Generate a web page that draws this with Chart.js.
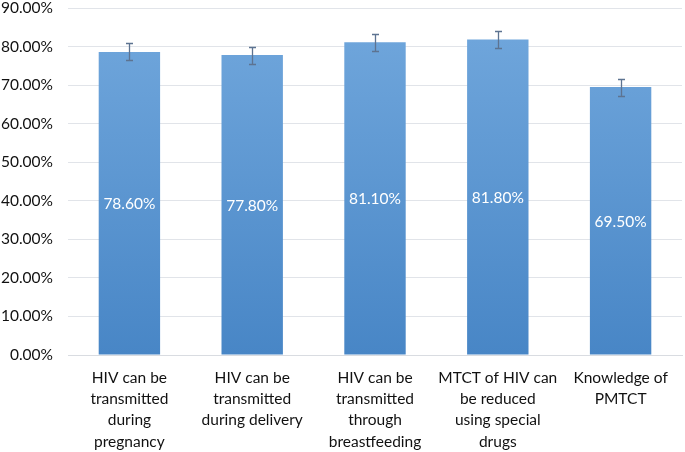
<!DOCTYPE html>
<html>
<head>
<meta charset="utf-8">
<script src="https://cdn.jsdelivr.net/npm/chart.js@4/dist/chart.umd.min.js"></script>
<style>
  html, body { margin: 0; padding: 0; background: #fff; }
  #wrap { width: 685px; height: 452px; }
</style>
</head>
<body>
<div id="wrap"><canvas id="myChart"></canvas></div>
<script>
const categories = [
    ['HIV can be', 'transmitted', 'during', 'pregnancy'],
    ['HIV can be', 'transmitted', 'during delivery'],
    ['HIV can be', 'transmitted', 'through', 'breastfeeding'],
    ['MTCT of HIV can', 'be reduced', 'using special', 'drugs'],
    ['Knowledge of', 'PMTCT']
];
const values = [78.6, 77.8, 81.1, 81.8, 69.5];
const errors = [2.2, 2.2, 2.2, 2.2, 2.2];
const yTicks = [0, 10, 20, 30, 40, 50, 60, 70, 80, 90];

const FONT = 'Lato, "Open Sans", sans-serif';

// error bars drawn from the y scale
const errorBars = {
    id: 'errorBars',
    afterDatasetsDraw(chart) {
        const ctx = chart.ctx;
        const y = chart.scales.y;
        const meta = chart.getDatasetMeta(0);
        ctx.save();
        ctx.strokeStyle = '#5d7391';
        ctx.lineWidth = 1.3;
        meta.data.forEach((bar, i) => {
            const top = Math.round(y.getPixelForValue(values[i] + errors[i])) + 0.5;
            const bot = Math.round(y.getPixelForValue(values[i] - errors[i])) + 0.5;
            const x = Math.round(bar.x) + 0.5;
            ctx.beginPath();
            ctx.moveTo(x, top); ctx.lineTo(x, bot);
            ctx.moveTo(x - 3.5, top); ctx.lineTo(x + 3.5, top);
            ctx.moveTo(x - 3.5, bot); ctx.lineTo(x + 3.5, bot);
            ctx.stroke();
        });
        ctx.restore();
    }
};

// value labels in the middle of each bar
const barLabels = {
    id: 'barLabels',
    afterDatasetsDraw(chart) {
        const ctx = chart.ctx;
        const meta = chart.getDatasetMeta(0);
        ctx.save();
        ctx.fillStyle = '#ffffff';
        ctx.font = '15.5px ' + FONT;
        ctx.textAlign = 'center';
        ctx.textBaseline = 'middle';
        meta.data.forEach((bar, i) => {
            ctx.fillText(values[i].toFixed(2) + '%', bar.x, (bar.y + bar.base) / 2 + 1);
        });
        ctx.restore();
    }
};

const ctx = document.getElementById('myChart').getContext('2d');

let chart = new Chart(ctx, {
    type: 'bar',
    data: {
        labels: categories,
        datasets: [{
            data: values,
            backgroundColor: (c) => {
                const area = c.chart.chartArea;
                if (!area) return '#5b9bd5';
                const g = c.chart.ctx.createLinearGradient(0, area.top, 0, area.bottom);
                g.addColorStop(0, '#72a8dd');
                g.addColorStop(1, '#4886c6');
                return g;
            },
            borderWidth: 0,
            categoryPercentage: 1.0,
            barPercentage: 0.5
        }]
    },
    options: {
        responsive: true,
        maintainAspectRatio: false,
        animation: false,
        layout: { padding: { top: 0, right: 3, left: 0, bottom: 0 } },
        plugins: {
            legend: { display: false },
            tooltip: { enabled: false }
        },
        scales: {
            x: {
                grid: { display: false, drawTicks: false },
                border: { color: '#d9dce1' },
                afterFit: (axis) => { axis.height = 97; },
                ticks: {
                    color: '#111',
                    font: { family: FONT, size: 15.5, lineHeight: 1.38 },
                    maxRotation: 0,
                    autoSkip: false,
                    padding: 12
                }
            },
            y: {
                min: 0,
                max: 90,
                afterBuildTicks: (axis) => { axis.ticks = yTicks.map(v => ({ value: v })); },
                afterFit: (axis) => {
                    axis.width = 68;
                    axis.paddingTop = 8;
                    axis.paddingBottom = 0;
                },
                grid: { color: '#e1e4e9', drawTicks: false },
                border: { display: false },
                ticks: {
                    color: '#111',
                    font: { family: FONT, size: 15.5, lineHeight: 1.0 },
                    padding: 15,
                    callback: (v) => v.toFixed(2) + '%'
                }
            }
        }
    },
    plugins: [errorBars, barLabels]
});
</script>
</body>
</html>
